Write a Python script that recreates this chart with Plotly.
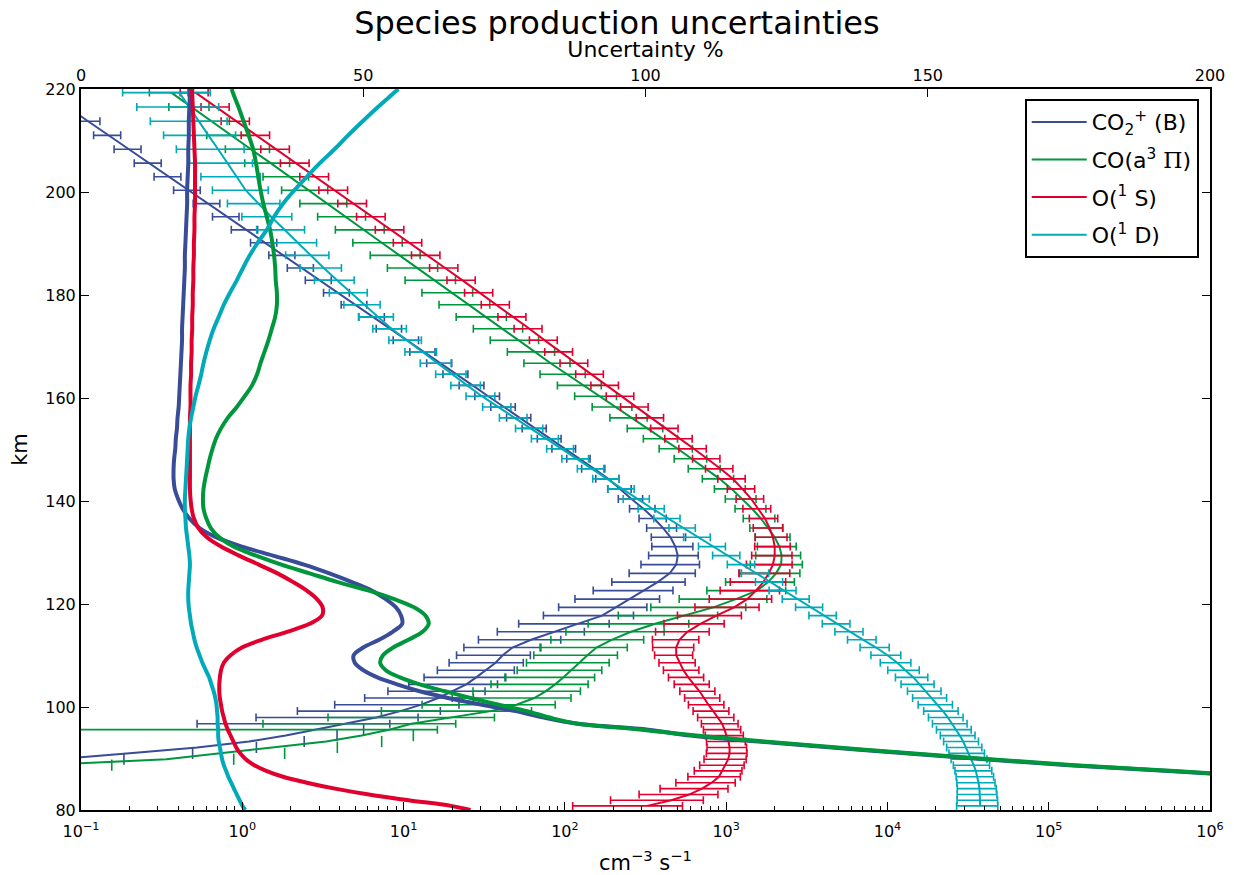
import numpy as np
import plotly.graph_objects as go

# altitude grid (km)
altitude = [
    80.8, 81.9, 83.0, 84.15, 85.3, 86.45, 87.6, 88.7, 89.85, 91.0,
    92.15, 93.3, 94.45, 95.6, 96.75, 97.95, 99.2, 100.45, 101.75, 103.05,
    104.4, 105.75, 107.15, 108.6, 110.05, 111.55, 113.05, 114.6, 116.15, 117.75,
    119.35, 120.95, 122.6, 124.25, 125.95, 127.65, 129.4, 131.15, 132.95, 134.75,
    136.6, 138.5, 140.4, 142.35, 144.3, 146.25, 148.2, 150.15, 152.1, 154.1,
    156.15, 158.25, 160.35, 162.45, 164.6, 166.75, 168.95, 171.2, 173.45, 175.75,
    178.1, 180.45, 182.85, 185.25, 187.7, 190.15, 192.65, 195.2, 197.75, 200.35,
    202.95, 205.6, 208.3, 211.0, 213.75, 216.5, 219.3,
]

# production rates (cm^-3 s^-1)
co2p_prod = [
    4.0e-5, 1.0e-4, 2.5e-4, 6.3e-4, 1.6e-3, 4.0e-3, 0.010, 0.025, 0.071, 0.20,
    0.525, 1.10, 1.86, 2.82, 4.37, 6.76, 9.55, 12.9, 16.4, 20.0,
    24.5, 28.2, 32.4, 37.2, 41.2, 47.3, 61.7, 85.1, 120, 170,
    207, 251, 309, 376, 447, 490, 501, 484, 452, 407,
    357, 307, 259, 221, 186, 152, 123, 99.8, 81.1, 65.5,
    52.5, 42.0, 33.5, 26.8, 21.3, 16.9, 13.3, 10.5, 8.24, 6.44,
    5.01, 3.90, 3.01, 2.33, 1.79, 1.38, 1.05, 0.804, 0.611, 0.462,
    0.350, 0.264, 0.198, 0.148, 0.110, 0.082, 0.061,
]
co_prod = [
    1.6e-5, 5.0e-5, 1.6e-4, 5.0e-4, 1.6e-3, 5.0e-3, 0.0158, 0.0562, 0.339, 0.741,
    1.66, 3.31, 5.50, 8.13, 11.2, 20.0, 34.7, 50.1, 64.6, 75.9,
    87.1, 97.7, 110, 123, 138, 157, 195, 257, 363, 550,
    832, 1150, 1550, 1820, 2040, 2190, 2210, 2140, 2000, 1820,
    1640, 1450, 1260, 1080, 912, 750, 617, 501, 403, 324,
    257, 204, 162, 129, 102, 81.7, 65.2, 51.6, 40.9, 32.3,
    25.4, 19.9, 15.6, 12.1, 9.44, 7.33, 5.68, 4.37, 3.36, 2.57,
    1.96, 1.50, 1.13, 0.857, 0.646, 0.486, 0.363,
]
o1s_prod = [
    324, 457, 589, 708, 813, 902, 944, 989, 1030, 1050,
    1050, 1035, 1010, 977, 944, 891, 832, 776, 733, 684,
    631, 582, 543, 513, 490, 490, 513, 575, 692, 871,
    1120, 1350, 1530, 1700, 1840, 1950, 2000, 2000, 1950, 1860,
    1740, 1580, 1430, 1260, 1100, 923, 767, 631, 516, 422,
    343, 275, 224, 180, 145, 116, 93.3, 75.0, 60.3, 47.9,
    37.8, 29.8, 23.2, 18.1, 14.0, 10.8, 8.36, 6.40, 4.90, 3.74,
    2.85, 2.16, 1.63, 1.23, 0.923, 0.692, 0.513,
]
o1d_prod = [
    37600, 37600, 37400, 37200, 36700, 36100, 35300, 34300, 33100, 32000,
    30900, 29500, 28100, 26600, 25100, 23700, 22100, 20400, 18800, 17400,
    15800, 14500, 12900, 11500, 10000, 8510, 7080, 5890, 4900, 4040,
    3330, 2750, 2280, 1880, 1540, 1260, 1020, 832, 671, 543,
    437, 349, 282, 227, 183, 147, 118, 95.1, 76.6, 61.2,
    48.8, 38.6, 30.6, 24.8, 20.1, 16.2, 13.1, 10.5, 8.43, 6.95,
    5.71, 4.71, 3.87, 3.20, 2.65, 2.20, 1.83, 1.51, 1.26, 1.05,
    0.923, 0.813, 0.708, 0.617, 0.537, 0.468, 0.407,
]

# uncertainties (%)
co2p_unc = [
    310, 290, 270, 250, 230, 210, 192, 175, 160, 146,
    133, 120, 108, 100.5, 88, 82, 77, 71, 65, 60,
    56, 52.5, 50.0, 48.5, 48.3, 50.0, 52.8, 55.2, 56.9, 56.7,
    55.8, 54, 51.5, 48, 44, 39.5, 34, 28.5, 24.0, 21.0,
    19.2, 18.0, 17.2, 16.6, 16.4, 16.4, 16.5, 16.7, 16.8, 17.0,
    17.1, 17.3, 17.4, 17.5, 17.6, 17.7, 17.8, 17.9, 17.9, 18.0,
    18.1, 18.2, 18.3, 18.4, 18.4, 18.5, 18.6, 18.7, 18.8, 18.8,
    18.9, 19.0, 19.0, 19.1, 19.1, 19.2, 19.3,
]
co_unc = [
    311, 291, 271, 251, 231, 211, 193, 176, 161, 147,
    134, 121, 109, 99.3, 88, 83, 79, 74, 69, 64.5,
    60, 56.5, 54, 53, 53.5, 55.3, 58, 60.5, 61.6, 61,
    59, 55.5, 51, 45.5, 40.5, 35.5, 31, 27, 24.5, 23,
    22.2, 21.7, 21.6, 21.7, 22.0, 22.4, 22.8, 23.3, 23.9, 24.8,
    26.0, 27.6, 29.0, 30.3, 31.2, 31.8, 32.5, 33.2, 33.8, 34.4,
    34.7, 34.7, 34.5, 34.4, 34.2, 33.9, 33.5, 32.9, 32.3, 31.8,
    31.4, 31.0, 30.5, 29.7, 28.8, 27.9, 26.9,
]
o1s_unc = [
    65.5, 58.0, 51.0, 45.0, 40.0, 35.8, 32.8, 30.7, 29.2, 28.2,
    27.5, 27.0, 26.5, 26.0, 25.6, 25.3, 25.0, 24.8, 24.6, 24.5,
    24.5, 24.6, 24.8, 25.3, 26.5, 28.5, 32.0, 36.5, 40.5, 42.7,
    42.8, 41.8, 40.0, 37.6, 34.8, 31.5, 28.0, 24.8, 22.3, 20.8,
    20.0, 19.6, 19.4, 19.3, 19.3, 19.3, 19.3, 19.3, 19.3, 19.3,
    19.3, 19.4, 19.4, 19.4, 19.5, 19.5, 19.6, 19.6, 19.7, 19.7,
    19.8, 19.8, 19.9, 19.9, 20.0, 20.0, 20.1, 20.1, 20.2, 20.2,
    20.2, 20.2, 20.1, 20.0, 19.9, 19.8, 19.7,
]
o1d_unc = [
    28.6, 28.1, 27.6, 27.1, 26.6, 26.1, 25.7, 25.3, 25.0, 24.8,
    24.6, 24.4, 24.3, 24.3, 24.2, 24.2, 24.1, 24.0, 23.8, 23.5,
    23.1, 22.7, 22.1, 21.5, 21.0, 20.5, 20.1, 19.8, 19.5, 19.3,
    19.1, 19.0, 19.0, 19.1, 19.2, 19.3, 19.2, 19.0, 18.8, 18.6,
    18.5, 18.4, 18.4, 18.5, 18.6, 18.7, 18.8, 18.9, 19.0, 19.2,
    19.5, 19.9, 20.3, 20.8, 21.3, 21.7, 22.2, 22.8, 23.5, 24.4,
    25.3, 26.4, 27.6, 28.7, 29.9, 31.3, 32.9, 34.2, 35.8, 37.8,
    40.0, 42.3, 44.9, 47.3, 49.9, 52.6, 55.5,
]

# uncertainty curves continue to the plot edges (80 km and 220 km)
edge_alt = [80.0, 220.0]
co2p_unc_edge = [330, 19.3]
co_unc_edge = [331, 26.7]
o1s_unc_edge = [69.0, 19.7]
o1d_unc_edge = [29.1, 56.2]

species = [
    ("CO<sub>2</sub><sup>+</sup> (B)", co2p_prod, co2p_unc, co2p_unc_edge, "#384c98"),
    ("CO(a<sup>3</sup> <span style='font-family:DejaVu Serif'>Π</span>)", co_prod, co_unc, co_unc_edge, "#00963c"),
    ("O(<sup>1</sup> S)", o1s_prod, o1s_unc, o1s_unc_edge, "#e1002d"),
    ("O(<sup>1</sup> D)", o1d_prod, o1d_unc, o1d_unc_edge, "#00aab9"),
]

decades = [-1, 0, 1, 2, 3, 4, 5, 6]
decade_labels = ["10<sup>%s</sup>" % str(d).replace("-", "\u2212") for d in decades]

fig = go.Figure()
alt = np.array(altitude)

for i, (name, prod, unc, edge, color) in enumerate(species):
    prod = np.array(prod)
    unc = np.array(unc)
    err = prod * unc / 100.0
    ok = unc < 100

    # full error bars
    fig.add_trace(go.Scatter(
        x=prod[ok], y=alt[ok], mode="markers",
        marker=dict(size=1, color="rgba(0,0,0,0)"),
        error_x=dict(type="data", array=err[ok], color=color, thickness=1.6, width=4),
        showlegend=False, legendgroup=str(i), hoverinfo="skip",
    ))
    # lower end below zero: only the upper cap survives on a log axis
    fig.add_trace(go.Scatter(
        x=(prod + err)[~ok], y=alt[~ok], mode="markers",
        marker=dict(symbol="line-ns", size=8, line=dict(color=color, width=1.6)),
        showlegend=False, legendgroup=str(i), hoverinfo="skip",
    ))
    fig.add_trace(go.Scatter(
        x=prod, y=alt, mode="lines", name=name, legendgroup=str(i),
        line=dict(color=color, width=2),
    ))

for i, (name, prod, unc, edge, color) in enumerate(species):
    fig.add_trace(go.Scatter(
        x=[edge[0]] + list(unc) + [edge[1]],
        y=[edge_alt[0]] + altitude + [edge_alt[1]],
        xaxis="x2", mode="lines", legendgroup=str(i),
        line=dict(color=color, width=4, shape="spline"),
        showlegend=False,
    ))

axis_style = dict(
    showline=True, linewidth=2, linecolor="black", ticks="inside",
    ticklen=8, tickwidth=1, tickcolor="black", showgrid=False, zeroline=False,
    tickfont=dict(size=16, color="black"), automargin=False,
)

fig.update_layout(
    width=1234, height=875,
    margin=dict(l=81, r=24, t=89, b=65),
    paper_bgcolor="white", plot_bgcolor="white",
    font=dict(family="DejaVu Sans", color="black"),
    title=dict(text="Species production uncertainties", x=0.5, xanchor="center",
               y=1 - 23 / 875, yanchor="middle", yref="container",
               font=dict(size=32, color="black")),
    xaxis=dict(
        type="log", range=[-1, 6], tickmode="array",
        tickvals=[10.0 ** d for d in decades], ticktext=decade_labels,
        minor=dict(ticks="inside", ticklen=4, tickcolor="black", dtick="D1"),
        ticklabelstandoff=6,
        title=dict(text="cm<sup>\u22123</sup> s<sup>\u22121</sup>", font=dict(size=21), standoff=15),
        **axis_style,
    ),
    xaxis2=dict(
        overlaying="x", side="top", anchor="y", range=[0, 200], dtick=50,
        title=dict(text="Uncertainty %", font=dict(size=22), standoff=2),
        **axis_style,
    ),
    yaxis=dict(
        range=[80, 220], dtick=20, mirror="ticks",
        title=dict(text="km", font=dict(size=21), standoff=12),
        **axis_style,
    ),
    legend=dict(
        x=0.990, y=0.986, xanchor="right", yanchor="top",
        bgcolor="white", bordercolor="black", borderwidth=2,
        font=dict(size=22, color="black"), tracegroupgap=6, itemwidth=55,
    ),
    showlegend=True,
)

# drop the default 8px page margin so the figure sits at the window origin
fig.write_html(
    "out.html",
    config={"displayModeBar": False},
    post_script="document.body.style.margin='0';",
)
